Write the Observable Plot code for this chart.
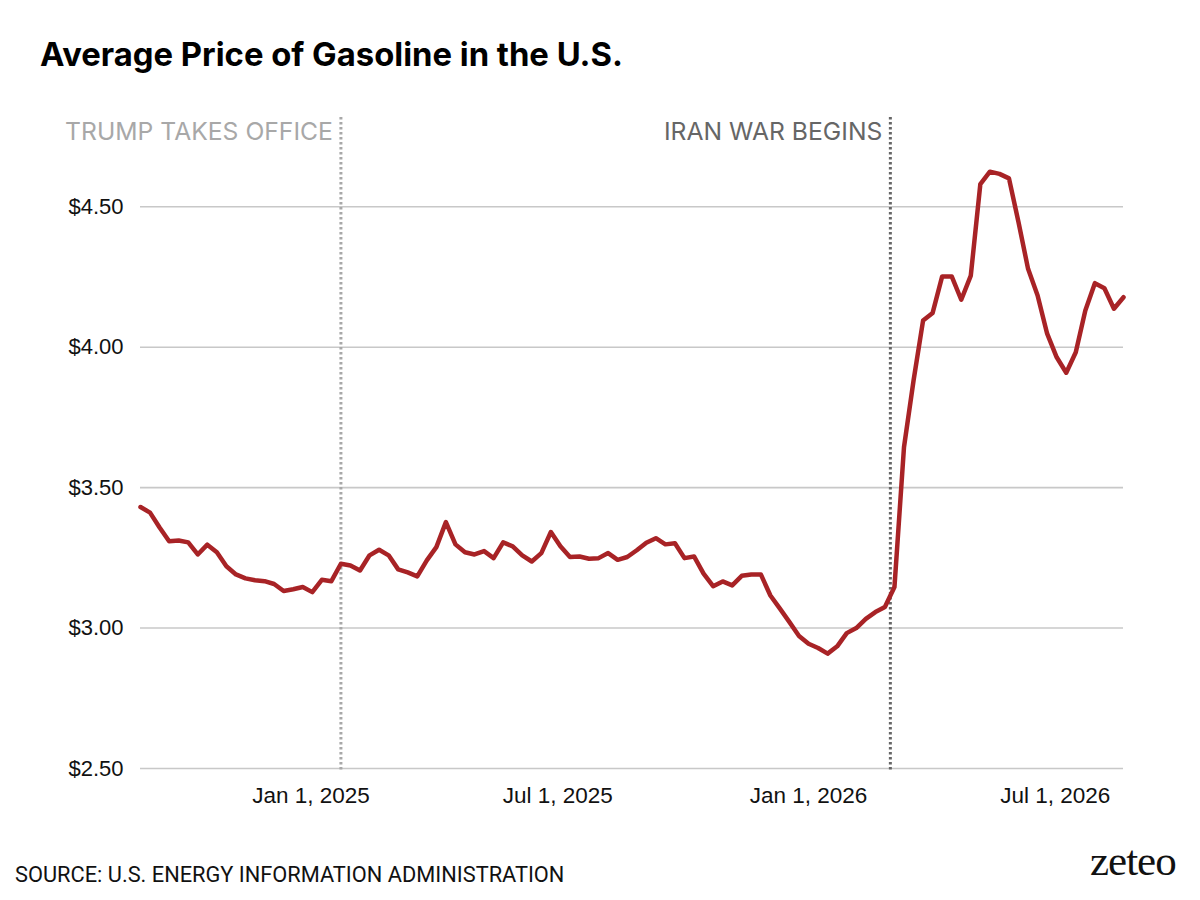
<!DOCTYPE html>
<html>
<head>
<meta charset="utf-8">
<script src="https://cdn.jsdelivr.net/npm/d3@7"></script>
<script src="https://cdn.jsdelivr.net/npm/@observablehq/plot@0.6"></script>
<style>
  html, body { margin: 0; padding: 0; background: #fff; }
  body { width: 1200px; height: 900px; position: relative; overflow: hidden; }
  #title { position: absolute; left: 40px; top: 35px; font-family: Inter, Roboto, sans-serif; font-weight: 700; font-size: 32.8px; color: #000; letter-spacing: 0; white-space: nowrap; line-height: 1.2; }
  #chart { position: absolute; left: 0; top: 100px; }
  #source { position: absolute; left: 15px; top: 862px; font-family: Roboto, "Noto Sans", sans-serif; font-size: 21.8px; color: #111; white-space: nowrap; }
  #logo { position: absolute; left: 1090px; top: 836px; font-family: "Liberation Serif", "DejaVu Serif", serif; font-size: 43px; color: #111; white-space: nowrap; letter-spacing: -1px; }
</style>
</head>
<body>
<div id="title">Average Price of Gasoline in the U.S.</div>
<div id="chart"></div>
<div id="source">SOURCE: U.S. ENERGY INFORMATION ADMINISTRATION</div>
<div id="logo">zeteo</div>
<script>
const weeks = [
  "2024-08-29","2024-09-05","2024-09-12","2024-09-19","2024-09-26","2024-10-03","2024-10-10","2024-10-17","2024-10-24","2024-10-31",
  "2024-11-07","2024-11-14","2024-11-21","2024-11-28","2024-12-05","2024-12-12","2024-12-19","2024-12-26",
  "2025-01-02","2025-01-09","2025-01-16","2025-01-23","2025-01-30","2025-02-06","2025-02-13","2025-02-20","2025-02-27",
  "2025-03-06","2025-03-13","2025-03-20","2025-03-27","2025-04-03","2025-04-10","2025-04-17","2025-04-24",
  "2025-05-01","2025-05-08","2025-05-15","2025-05-22","2025-05-29","2025-06-05","2025-06-12","2025-06-19","2025-06-26",
  "2025-07-03","2025-07-10","2025-07-17","2025-07-24","2025-07-31","2025-08-07","2025-08-14","2025-08-21","2025-08-28",
  "2025-09-04","2025-09-11","2025-09-18","2025-09-25","2025-10-02","2025-10-09","2025-10-16","2025-10-23","2025-10-30",
  "2025-11-06","2025-11-13","2025-11-20","2025-11-27","2025-12-04","2025-12-11","2025-12-18","2025-12-25",
  "2026-01-01","2026-01-08","2026-01-15","2026-01-22","2026-01-29","2026-02-05","2026-02-12","2026-02-19","2026-02-26",
  "2026-03-05","2026-03-12","2026-03-19","2026-03-26","2026-04-02","2026-04-09","2026-04-16","2026-04-23","2026-04-30",
  "2026-05-07","2026-05-14","2026-05-21","2026-05-28","2026-06-04","2026-06-11","2026-06-18","2026-06-25",
  "2026-07-02","2026-07-09","2026-07-16","2026-07-23","2026-07-30","2026-08-06","2026-08-13","2026-08-20"
];
const prices = [
  3.431,3.411,3.358,3.309,3.312,3.305,3.262,3.297,3.270,3.220,
  3.191,3.177,3.170,3.167,3.157,3.132,3.138,3.146,
  3.128,3.172,3.167,3.229,3.223,3.205,3.259,3.279,3.259,
  3.209,3.198,3.184,3.241,3.288,3.377,3.298,3.270,
  3.262,3.274,3.249,3.305,3.291,3.259,3.237,3.267,3.342,
  3.291,3.253,3.255,3.247,3.249,3.267,3.243,3.253,3.277,
  3.304,3.320,3.298,3.302,3.249,3.255,3.194,3.149,3.166,
  3.152,3.186,3.191,3.191,3.116,3.069,3.021,2.972,
  2.944,2.929,2.909,2.935,2.982,3.000,3.033,3.057,3.075,
  3.146,3.644,3.881,4.095,4.122,4.252,4.252,4.169,4.255,
  4.581,4.625,4.617,4.601,4.445,4.279,4.184,4.048,
  3.964,3.909,3.982,4.131,4.228,4.210,4.137,4.178
];
const eventDates = ["2025-01-23", "2026-03-02"];
const eventLabels = ["TRUMP TAKES OFFICE", "IRAN WAR BEGINS"];
const eventColors = ["#a8a8a8", "#666666"];
const yTicks = [2.5, 3.0, 3.5, 4.0, 4.5];
const xTicks = ["2025-01-01", "2025-07-01", "2026-01-01", "2026-07-01"];

const parse = d3.utcParse("%Y-%m-%d");
const data = weeks.map((w, i) => ({date: parse(w), price: prices[i]}));
const events = eventDates.map((d, i) => ({date: parse(d), label: eventLabels[i], color: eventColors[i]}));

const chart = Plot.plot({
  width: 1200,
  height: 730,
  marginLeft: 140,
  marginRight: 77,
  marginTop: 22,
  marginBottom: 62,
  style: {fontFamily: "'Liberation Sans', Arial, sans-serif", color: "#111", background: "#fff"},
  x: {type: "utc", domain: d3.extent(data, d => d.date), label: null},
  y: {domain: [2.5, 4.8], label: null},
  marks: [
    Plot.gridY(yTicks, {stroke: "#c8c8c8", strokeOpacity: 1, strokeWidth: 1.6}),
    Plot.axisY(yTicks, {tickSize: 0, tickPadding: 17, fontSize: 22, tickFormat: d3.format("$.2f"), fill: "#111", label: null}),
    Plot.axisX(xTicks.map(parse), {tickSize: 0, tickPadding: 18.5, fontSize: 22.5, tickFormat: d3.utcFormat("%b %-d, %Y"), fill: "#111", label: null}),
    Plot.ruleX(events, {x: "date", stroke: "color", strokeWidth: 3, strokeDasharray: "2.5,2.5", insetTop: -5, insetBottom: -2}),
    Plot.text(events, {x: "date", text: "label", fill: "color", frameAnchor: "top", lineAnchor: "top", textAnchor: "end", dx: -8, fontSize: 24.7, fontFamily: "Inter, Roboto, sans-serif"}),
    Plot.line(data, {x: "date", y: "price", stroke: "#a82326", strokeWidth: 4.5, strokeLinejoin: "round", strokeLinecap: "round"})
  ]
});
document.getElementById("chart").appendChild(chart);
</script>
</body>
</html>
